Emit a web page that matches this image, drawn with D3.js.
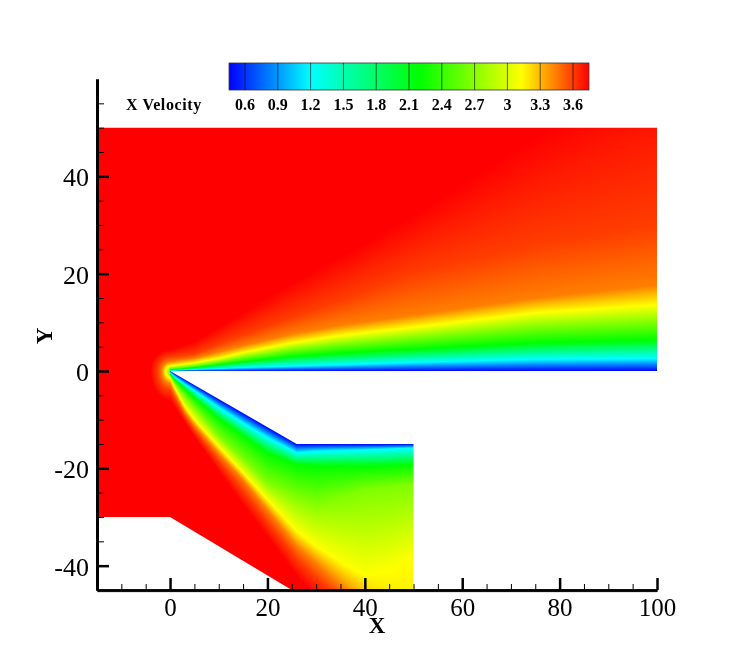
<!DOCTYPE html>
<html>
<head>
<meta charset="utf-8">
<title>X Velocity</title>
<script src="https://cdn.jsdelivr.net/npm/d3@7"></script>
<style>
    html, body { margin: 0; padding: 0; background: #fff; }
    #renderer { position: relative; width: 747px; height: 664px; overflow: hidden; }
    #renderer canvas, #renderer svg { position: absolute; left: 0; top: 0; }
</style>
</head>
<body>
<div id="renderer"></div>
<script>
// colour legend
var legendTicks = [0.6, 0.9, 1.2, 1.5, 1.8, 2.1, 2.4, 2.7, 3, 3.3, 3.6];
var legendMin = 0.454;
var legendMax = 3.746;
var colorValues = [0.454, 1.2, 2.2, 3.13, 3.746];
var colorNames = ['#0000ff', '#00ffff', '#00ff00', '#ffff00', '#ff0000'];

// axis ticks
var xMajor = [0, 20, 40, 60, 80, 100];
var xMinor = [-10, -5, 5, 10, 15, 25, 30, 35, 45, 50, 55, 65, 70, 75, 85, 90, 95];
var yMajor = [-40, -20, 0, 20, 40];
var yMinor = [-35, -30, -25, -15, -10, -5, 5, 10, 15, 25, 30, 35, 45, 50, 55];

// outline of the flow domain
var domainX = [-15, 100, 100, 0, 26, 50, 50, 25, 0, -15];
var domainY = [50, 50, 0, 0, -15, -15, -45, -45, -30, -30];

var isoValues = [0.454, 1.2, 2.2, 2.66, 3.13, 3.44, 3.6, 3.746];

var upperStations = [0, 5, 10, 15, 25, 35, 50, 75, 100];
var upperHeights = [
    [0, 0, 0, 0, 0, 0, 0, 0, 0],
    [0.05, 0.3, 0.5, 0.7, 1, 1.3, 1.8, 2.4, 2.6],
    [0.2, 0.7, 1.3, 1.9, 3, 3.7, 4.5, 5.8, 6.4],
    [0.6, 1.1, 1.9, 2.8, 4.4, 5.5, 6.8, 9, 10],
    [1, 1.7, 2.6, 3.8, 5.8, 7.3, 9, 12, 13.6],
    [1.9, 2.6, 3.9, 5.2, 7.6, 9.4, 11.5, 15, 17.7],
    [2.9, 3.5, 5.5, 7.4, 11, 14.5, 20, 26, 30],
    [4.4, 6, 9, 12, 18, 23.5, 32, 48, 62]
];

var lowerStations = [0, 1, 3, 5, 10, 15, 20, 26, 30, 36, 40, 45, 50];
var lowerHeights = [
    [0, -0.58, -1.73, -2.88, -5.77, -8.65, -11.54, -15, -15, -15, -15, -15, -15],
    [-0.3, -1.2, -2.7, -4, -7.5, -10.7, -13.7, -16.8, -16.5, -16.3, -16.2, -16, -15.8],
    [-0.6, -1.8, -3.6, -5.5, -9.7, -13.3, -16.8, -19.2, -19.5, -19.5, -19.6, -19.5, -19.2],
    [-0.9, -2.6, -5.2, -7.5, -13.4, -18, -22.9, -25.7, -27, -25.5, -24.3, -23.8, -23.3],
    [-1.35, -3.5, -7.3, -10, -15.5, -20.9, -26.4, -32.9, -36, -39.8, -42, -41, -38],
    [-2.55, -4.6, -8.4, -11.2, -17, -22.4, -28.6, -36, -39.5, -45, -49, -70, -110],
    [-3.9, -5.7, -9.3, -12.2, -18.5, -24.5, -31, -38.5, -42.5, -47.5, -52, -80, -120],
    [-6, -7.5, -10.5, -13.5, -20.5, -27.5, -34, -42, -46.5, -53, -58, -90, -130]
];

// halo in front of the nose, distance from the origin
var noseRadius = [0, 0.9, 1.7, 2.6, 4];
var noseValues = [2.6, 3.13, 3.44, 3.6, 3.746];

var W = 747, H = 664;
var x = d3.scaleLinear().domain([-15, 100]).range([97, 657]);
var y = d3.scaleLinear().domain([-45, 60]).range([590, 79]);
var color = d3.scaleLinear().domain(colorValues).range(colorNames).clamp(true);
var legendX = d3.scaleLinear().domain([0.6, 3.6]).range([245, 573]);
var noseScale = d3.scaleLinear().domain(noseRadius).range(noseValues).clamp(true);

var canvas = d3.select('#renderer').append('canvas')
    .attr('width', W)
    .attr('height', H);
var root = d3.select('#renderer').append('svg')
    .attr('width', W)
    .attr('height', H);

// value across one column of the picture
function columnScale(stations, heights, xVal){
    var ys = heights.map(function(row){
        return d3.scaleLinear().domain(stations).range(row).clamp(true)(xVal);
    });
    return d3.scaleLinear().domain(ys).range(isoValues).clamp(true);
}

function drawField(){
    var left = Math.floor(x(-15)), right = Math.ceil(x(100));
    var top = Math.floor(y(50)), bottom = Math.ceil(y(-45));
    var buffer = document.createElement('canvas');
    buffer.width = W;
    buffer.height = H;
    var bctx = buffer.getContext('2d');
    var img = bctx.createImageData(W, H);

    for(var px = left; px <= right; px ++){
        var xVal = x.invert(px + 0.5);
        var up = xVal >= 0 ? columnScale(upperStations, upperHeights, xVal) : null;
        var low = xVal >= 0 ? columnScale(lowerStations, lowerHeights, Math.min(xVal, 50)) : null;

        for(var py = top; py <= bottom; py ++){
            var yVal = y.invert(py + 0.5);
            var v;
            if(xVal < 0){
                var stretch = yVal >= 0 ? 1.1 : 1.5;
                v = noseScale(Math.sqrt(xVal * xVal + Math.pow(yVal / stretch, 2)));
            } else if(yVal >= 0){
                v = up(yVal);
            } else {
                v = low(yVal);
            }
            var c = d3.rgb(color(v));
            var k = (py * W + px) * 4;
            img.data[k] = c.r;
            img.data[k + 1] = c.g;
            img.data[k + 2] = c.b;
            img.data[k + 3] = 255;
        }
    }
    bctx.putImageData(img, 0, 0);

    // cut the field to the domain outline
    var ctx = canvas.node().getContext('2d');
    var outline = d3.line()
        .x(function(i){ return x(domainX[i]); })
        .y(function(i){ return y(domainY[i]); })
        .context(ctx);
    ctx.beginPath();
    outline(d3.range(domainX.length));
    ctx.closePath();
    ctx.clip();
    ctx.drawImage(buffer, 0, 0);
}

function drawAxes(){
    var serif = '"Liberation Serif", "Times New Roman", serif';

    root.append('line')
        .attr('x1', x(-15)).attr('x2', x(100))
        .attr('y1', y(-45) + 2).attr('y2', y(-45) + 2)
        .attr('stroke', '#c8c8c8').attr('stroke-width', 1);

    var xAxis = d3.axisBottom(x).tickValues(xMajor).tickFormat(d3.format('d'))
        .tickSizeInner(-12).tickSizeOuter(0).tickPadding(8);
    var xAxisMinor = d3.axisBottom(x).tickValues(xMinor).tickFormat('')
        .tickSizeInner(-6).tickSizeOuter(0);
    var yAxis = d3.axisLeft(y).tickValues(yMajor).tickFormat(function(d){ return String(d); })
        .tickSizeInner(-12).tickSizeOuter(0).tickPadding(8);
    var yAxisMinor = d3.axisLeft(y).tickValues(yMinor).tickFormat('')
        .tickSizeInner(-7).tickSizeOuter(0);

    [xAxisMinor, xAxis].forEach(function(axis, i){
        var g = root.append('g')
            .attr('transform', 'translate(0,' + y(-45) + ')')
            .call(axis)
            .attr('font-family', serif)
            .attr('font-size', 25);
        g.selectAll('.tick line').attr('stroke', '#000').attr('stroke-width', i ? 2.5 : 1);
        g.selectAll('.domain').attr('stroke', '#000').attr('stroke-width', 2.5);
        g.selectAll('.tick text').attr('fill', '#000');
    });
    [yAxisMinor, yAxis].forEach(function(axis, i){
        var g = root.append('g')
            .attr('transform', 'translate(' + x(-15) + ',0)')
            .call(axis)
            .attr('font-family', serif)
            .attr('font-size', 26);
        g.selectAll('.tick line').attr('stroke', '#000').attr('stroke-width', i ? 2.5 : 1);
        g.selectAll('.domain').attr('stroke', '#000').attr('stroke-width', 3);
        g.selectAll('.tick text').attr('fill', '#000').attr('dy', '0.37em');
    });

    root.append('text')
        .attr('x', 377).attr('y', 633)
        .attr('text-anchor', 'middle')
        .attr('font-family', serif).attr('font-weight', 'bold').attr('font-size', 23)
        .text('X');
    root.append('text')
        .attr('transform', 'translate(52,336) rotate(-90)')
        .attr('text-anchor', 'middle')
        .attr('font-family', serif).attr('font-weight', 'bold').attr('font-size', 23)
        .text('Y');
}

function drawLegend(){
    var serif = '"Liberation Serif", "Times New Roman", serif';
    var top = 63, height = 27;

    var grad = root.append('defs').append('linearGradient')
        .attr('id', 'legendGrad')
        .attr('x1', '0%').attr('x2', '100%')
        .attr('y1', '0%').attr('y2', '0%');
    colorValues.forEach(function(d, i){
        grad.append('stop')
            .attr('offset', (d - legendMin) / (legendMax - legendMin) * 100 + '%')
            .attr('stop-color', colorNames[i]);
    });

    root.append('rect')
        .attr('x', legendX(legendMin)).attr('y', top)
        .attr('width', legendX(legendMax) - legendX(legendMin))
        .attr('height', height)
        .attr('fill', 'url(#legendGrad)')
        .attr('stroke', '#333').attr('stroke-width', 0.8);

    root.selectAll('.legendTick').data(legendTicks).enter().append('line')
        .attr('class', 'legendTick')
        .attr('x1', function(d){ return legendX(d); })
        .attr('x2', function(d){ return legendX(d); })
        .attr('y1', top).attr('y2', top + height)
        .attr('stroke', '#000').attr('stroke-opacity', 0.6).attr('stroke-width', 1);

    root.selectAll('.legendLabel').data(legendTicks).enter().append('text')
        .attr('class', 'legendLabel')
        .attr('x', function(d){ return legendX(d); })
        .attr('y', 110)
        .attr('text-anchor', 'middle')
        .attr('font-family', serif).attr('font-weight', 'bold').attr('font-size', 16)
        .text(function(d){ return String(d); });

    root.append('text')
        .attr('x', 126).attr('y', 110)
        .attr('font-family', serif).attr('font-weight', 'bold').attr('font-size', 16)
        .attr('letter-spacing', 0.6)
        .text('X Velocity');
}

drawField();
drawAxes();
drawLegend();
</script>
</body>
</html>
